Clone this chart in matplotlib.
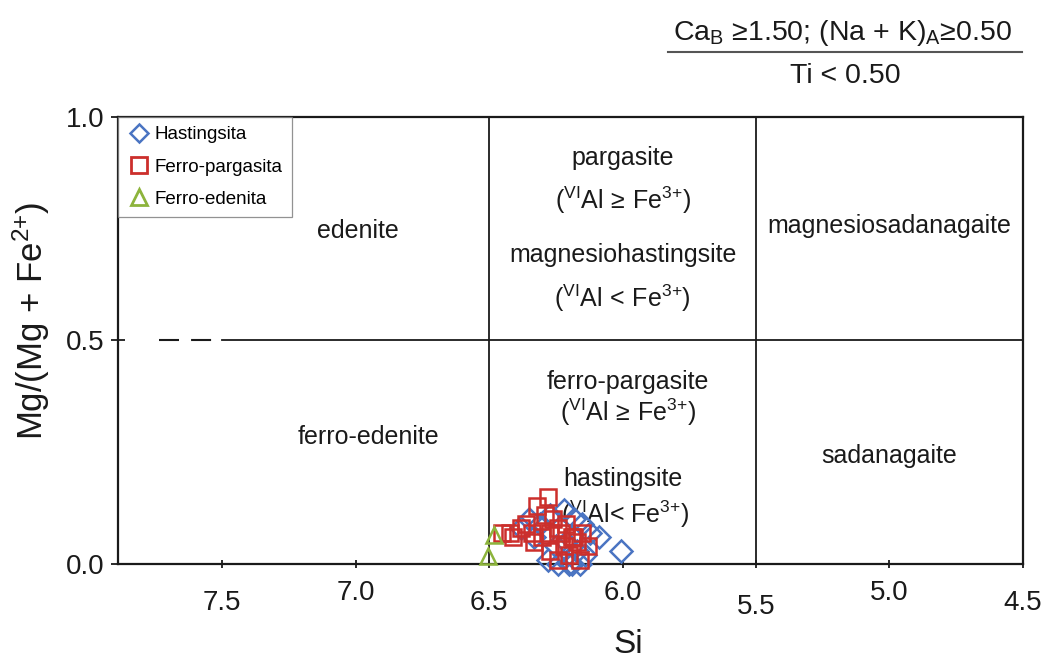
import matplotlib
matplotlib.use("Agg")
import matplotlib.pyplot as plt
from matplotlib.lines import Line2D
from matplotlib.transforms import ScaledTranslation

plt.rcParams['font.family'] = ['Liberation Sans', 'DejaVu Sans']
plt.rcParams['mathtext.fontset'] = 'custom'
plt.rcParams['mathtext.rm'] = 'Liberation Sans'
plt.rcParams['mathtext.it'] = 'Liberation Sans:italic'
plt.rcParams['mathtext.bf'] = 'Liberation Sans:bold'
plt.rcParams['mathtext.default'] = 'regular'

# analyses: Si (apfu) vs Mg/(Mg+Fe2+)
si_hast = [6.38, 6.35, 6.31, 6.27, 6.22, 6.18, 6.15, 6.12, 6.09, 6.005,
           6.28, 6.24, 6.20, 6.16, 6.25, 6.21, 6.17, 6.14, 6.33, 6.19]
mg_hast = [0.08, 0.10, 0.09, 0.11, 0.12, 0.10, 0.09, 0.07, 0.06, 0.03,
           0.01, 0.0, 0.0, 0.0, 0.04, 0.05, 0.03, 0.02, 0.06, 0.0]

si_fpar = [6.45, 6.42, 6.38, 6.34, 6.30, 6.27, 6.23, 6.19, 6.15, 6.32,
           6.28, 6.29, 6.26, 6.24, 6.27, 6.22, 6.17, 6.13, 6.24, 6.20,
           6.16, 6.36, 6.41, 6.21, 6.18, 6.33]
mg_fpar = [0.07, 0.07, 0.08, 0.07, 0.06, 0.07, 0.07, 0.06, 0.07, 0.13,
           0.15, 0.11, 0.10, 0.08, 0.03, 0.04, 0.05, 0.04, 0.01, 0.02,
           0.01, 0.09, 0.06, 0.09, 0.06, 0.05]

si_fede = [6.48, 6.505]
mg_fede = [0.065, 0.018]

# field boundaries
si_splits = [6.5, 5.5]
mg_split = 0.5
mg_split_from = 7.5
mg_dash_from = 7.735

xticks = [7.5, 7.0, 6.5, 6.0, 5.5, 5.0, 4.5]
xtick_drop = [10, 0, 10, 0, 14, 0, 10]   # px, staggered labels
yticks = [0.0, 0.5, 1.0]

VI = r'$^{\mathregular{VI}}$'
FE3 = r'Fe$^{3{+}}$'
fields = [
    ("edenite", 6.99, 0.745),
    ("pargasite", 6.0, 0.908),
    ("(" + VI + r"Al$\,\geq\,$" + FE3 + ")", 6.0, 0.814),
    ("magnesiohastingsite", 6.0, 0.692),
    ("(" + VI + r"Al$\,<\,$" + FE3 + ")", 6.0, 0.594),
    ("magnesiosadanagaite", 5.0, 0.756),
    ("ferro-edenite", 6.95, 0.283),
    ("ferro-pargasite", 5.98, 0.408),
    ("(" + VI + r"Al$\,\geq\,$" + FE3 + ")", 5.98, 0.339),
    ("hastingsite", 6.0, 0.19),
    ("(" + VI + "Al< " + FE3 + ")", 5.99, 0.112),
    ("sadanagaite", 5.0, 0.242),
]

blue = '#4a74c2'
red = '#cc2f2c'
green = '#8db43c'
ink = '#1a1a1a'

fig = plt.figure(figsize=(10.48, 6.59), dpi=100)
ax = fig.add_axes([0.1126, 0.1442, 0.8635, 0.6783])

ax.set_xlim(7.89, 4.5)
ax.set_ylim(0.0, 1.0)

for s in si_splits:
    ax.plot([s, s], [0, 1], color=ink, lw=1.3, zorder=1)
ax.plot([mg_split_from, 4.5], [mg_split, mg_split], color=ink, lw=1.3, zorder=1)
ax.plot([mg_dash_from, mg_split_from], [mg_split, mg_split], color=ink, lw=1.5,
        dashes=(9.6, 5.8), zorder=1)

for txt, x, y in fields:
    ax.text(x, y, txt, ha='center', va='center', fontsize=18, color=ink, zorder=3)

mk = dict(ls='none', mfc='none', mew=1.8, clip_on=False, zorder=4)
ax.plot(si_hast, mg_hast, marker='D', ms=11, color=blue, **mk)
ax.plot(si_fpar, mg_fpar, marker='s', ms=12, color=red, **mk)
ax.plot(si_fede, mg_fede, marker='^', ms=12, color=green, **mk)

handles = [
    Line2D([], [], ls='none', marker='D', ms=9, mfc='none', mew=1.8, color=blue),
    Line2D([], [], ls='none', marker='s', ms=11, mfc='none', mew=2.0, color=red),
    Line2D([], [], ls='none', marker='^', ms=11, mfc='none', mew=2.0, color=green),
]
leg = ax.legend(handles, ["Hastingsita", "Ferro-pargasita", "Ferro-edenita"],
                loc='upper left', bbox_to_anchor=(0, 1), borderaxespad=0,
                fontsize=13.5, frameon=True, fancybox=False, handlelength=1.2,
                handletextpad=0.25, borderpad=0.5, labelspacing=0.8)
leg.get_frame().set_edgecolor('#777777')
leg.get_frame().set_linewidth(0.9)

for sp in ax.spines.values():
    sp.set_linewidth(1.6)
    sp.set_color(ink)

ax.set_xticks(xticks)
ax.set_xticklabels([f"{t:.1f}" for t in xticks])
ax.set_yticks(yticks)
ax.set_yticklabels([f"{t:.1f}" for t in yticks])
ax.tick_params(axis='x', direction='inout', length=6, width=1.3, pad=8.5,
               labelsize=20, colors=ink)
ax.tick_params(axis='y', direction='inout', length=10, width=1.3, pad=4.5,
               labelsize=20, colors=ink)
for lab, d in zip(ax.get_xticklabels(), xtick_drop):
    lab.set_transform(lab.get_transform() +
                      ScaledTranslation(0, -d / 100, fig.dpi_scale_trans))

ax.set_xlabel("Si", fontsize=24, color=ink, va='baseline')
ax.xaxis.set_label_coords(0.5635, -0.2)
ax.set_ylabel(r"Mg/(Mg + Fe$^{2{+}}$)", fontsize=25, color=ink)
ax.yaxis.set_label_coords(-0.073, 0.545)

# compositional constraints for the calcic group with (Na+K)A >= 0.50
fig.text(0.804, 1 - 40 / 659,
         r"Ca$_{\mathregular{B}}$ ≥1.50; (Na + K)$_{\mathregular{A}}$≥0.50",
         ha='center', va='baseline', fontsize=20.5, color=ink)
fig.add_artist(Line2D([668 / 1048, 1022 / 1048], [1 - 52 / 659, 1 - 52 / 659],
                      color='#555555', lw=1.5, transform=fig.transFigure))
fig.text(0.807, 1 - 83 / 659, "Ti < 0.50", ha='center', va='baseline',
         fontsize=20.5, color=ink)

fig.savefig("out.png", dpi=100)
